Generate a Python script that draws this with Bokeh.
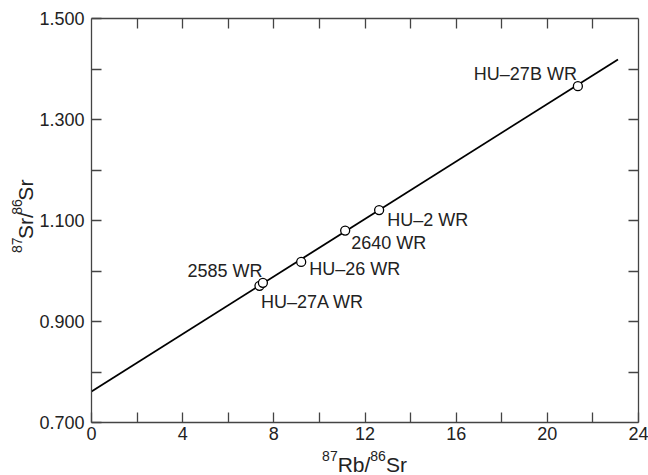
import math
from bokeh.plotting import figure
from bokeh.layouts import column, row
from bokeh.models import LinearAxis, FixedTicker, PrintfTickFormatter, ColumnDataSource
from bokeh.embed import file_html
from bokeh.resources import INLINE
from bokeh.core.properties import value

# ---- data ----
samples = ["HU–27B WR", "HU–2 WR", "2640 WR", "HU–26 WR", "2585 WR", "HU–27A WR"]
rb_sr = [21.34, 12.62, 11.13, 9.20, 7.37, 7.52]
sr_sr = [1.366, 1.1206, 1.080, 1.018, 0.9707, 0.9766]
isochron_x = [0.0, 23.1]
isochron_y = [0.7615, 1.419]
x_ticks = [0, 4, 8, 12, 16, 20, 24]
x_minor = [2, 6, 10, 14, 18, 22]
y_ticks = [0.7, 0.9, 1.1, 1.3, 1.5]
y_minor = [0.8, 1.0, 1.2, 1.4]

# ---- label styling (screen px relative to each point) ----
label_align = ["right", "left", "left", "left", "right", "left"]
label_dx = [-1, 8, 6, 8, 3, -2]
label_dy = [-12, 10, 12, 7, -15, 19]

FONT = "Liberation Sans"
AX = "#444444"
TXT = "#222222"
W, H = 648, 475
YW = 36          # width of the strip holding the y title
XH = 28          # height of the strip holding the x title
FL, FR, FT, FB = 90, 638, 18, 422   # frame edges on the page (px)

MW, MH = W - YW, H - XH
p = figure(width=MW, height=MH, x_range=(0, 24), y_range=(0.7, 1.5),
           output_backend="svg", toolbar_location=None,
           min_border_left=FL - YW, min_border_right=W - FR, min_border_top=FT,
           min_border_bottom=MH - FB)
p.xgrid.visible = False
p.ygrid.visible = False
p.outline_line_color = None
p.background_fill_color = "white"
p.border_fill_color = "white"

def style_axis(ax):
    ax.axis_line_color = AX
    ax.axis_line_width = 1.3
    ax.major_tick_line_color = AX
    ax.minor_tick_line_color = AX
    ax.major_tick_line_width = 1.3
    ax.minor_tick_line_width = 1.3
    ax.major_tick_in = 10
    ax.major_tick_out = 0
    ax.minor_tick_in = 10
    ax.minor_tick_out = 0
    ax.major_label_text_font = FONT
    ax.major_label_text_font_size = "18px"
    ax.major_label_text_color = TXT

xa = p.xaxis[0]
xa.ticker = FixedTicker(ticks=x_ticks, minor_ticks=x_minor)
style_axis(xa)
xa.major_label_standoff = 4

ya = p.yaxis[0]
ya.ticker = FixedTicker(ticks=y_ticks, minor_ticks=y_minor)
ya.formatter = PrintfTickFormatter(format="%.3f")
style_axis(ya)
ya.major_label_standoff = 7

top = LinearAxis(ticker=FixedTicker(ticks=[], minor_ticks=x_minor + x_ticks[1:-1]))
style_axis(top)
p.add_layout(top, "above")
right = LinearAxis(ticker=FixedTicker(ticks=[], minor_ticks=y_minor + y_ticks[1:-1]))
style_axis(right)
p.add_layout(right, "right")

p.line(isochron_x, isochron_y, line_color="black", line_width=1.8)

src = ColumnDataSource(dict(x=rb_sr, y=sr_sr, name=samples, align=label_align,
                            dx=label_dx, dy=label_dy))
p.scatter("x", "y", source=src, size=9, marker="circle", fill_color="white",
          line_color="black", line_width=1.3)
p.text("x", "y", text="name", source=src, x_offset="dx", y_offset="dy",
       text_align="align", text_baseline="alphabetic",
       text_font=value(FONT), text_font_size="18px", text_color=TXT)

# ---- axis titles with superscripts, in thin strips beside the plot ----
BIG, SUP = 21, 14
SHIFT = 0.29     # empirical baseline correction (fraction of font size)
def wid(s, size):
    m = {"8": .556, "7": .556, "6": .556, "R": .722, "b": .556, "/": .278,
         "S": .667, "r": .333}
    return sum(m[c] for c in s) * size

def strip(w, h):
    f = figure(width=w, height=h, x_range=(0, w), y_range=(0, h),
               output_backend="svg", toolbar_location=None,
               x_axis_type=None, y_axis_type=None, min_border=0)
    f.outline_line_color = None
    f.background_fill_color = "white"
    f.border_fill_color = "white"
    return f

def compose(f, pieces, start, base, vertical):
    pos = start
    for txt, sup in pieces:
        size = SUP if sup else BIG
        off = (10 if sup else 0) + SHIFT * size
        if vertical:
            f.text(x=[base - off], y=[pos], text=[txt], angle=math.pi / 2,
                   text_font=value(FONT), text_font_size=f"{size}px",
                   text_color=TXT, text_baseline="alphabetic", text_align="left")
        else:
            f.text(x=[pos], y=[base + off], text=[txt],
                   text_font=value(FONT), text_font_size=f"{size}px",
                   text_color=TXT, text_baseline="alphabetic", text_align="left")
        pos += wid(txt, size)

xt = [("87", True), ("Rb/", False), ("86", True), ("Sr", False)]
yt = [("87", True), ("Sr/", False), ("86", True), ("Sr", False)]
xw = sum(wid(t, SUP if s else BIG) for t, s in xt)
yw = sum(wid(t, SUP if s else BIG) for t, s in yt)

xfig = strip(W, XH)
compose(xfig, xt, (FL + FR) / 2 - xw / 2, 5, False)

yfig = strip(YW, MH)
compose(yfig, yt, (MH - (FT + FB) / 2) - yw / 2, 31, True)

layout = column(row(yfig, p, spacing=0), xfig, spacing=0)
open("out.html", "w").write(file_html(layout, INLINE))
